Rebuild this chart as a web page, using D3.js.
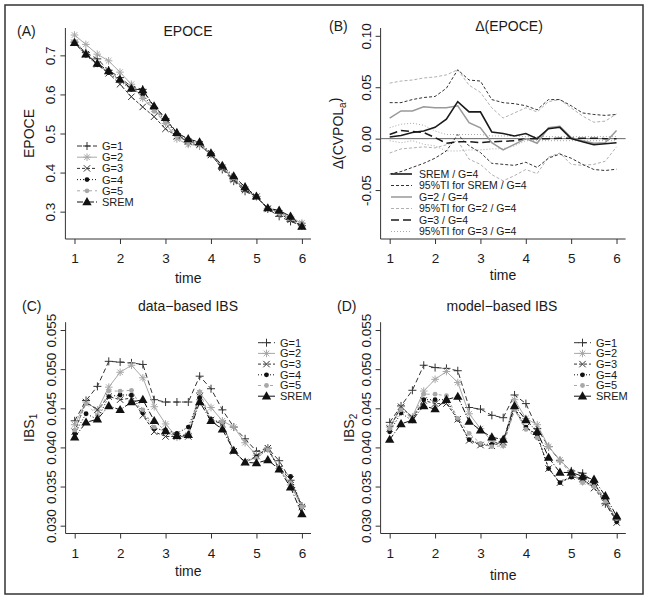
<!DOCTYPE html>
<html>
<head>
<meta charset="utf-8">
<script src="https://cdn.jsdelivr.net/npm/d3@7"></script>
<style>
body { margin: 0; background: #fff; }
text { font-family: "Liberation Sans", Arial, sans-serif; fill: #1a1a1a; }
</style>
</head>
<body>
<script>
// time grid shared by every panel
var times = [1, 1.25, 1.5, 1.75, 2, 2.25, 2.5, 2.75, 3, 3.25, 3.5, 3.75, 4, 4.25, 4.5, 4.75, 5, 5.25, 5.5, 5.75, 6];
var xTicks = [1, 2, 3, 4, 5, 6];

// (A) EPOCE
var epoceG1 = [0.734,0.707,0.691,0.662,0.643,0.620,0.613,0.566,0.538,0.500,0.476,0.469,0.448,0.408,0.378,0.352,0.339,0.307,0.288,0.275,0.264];
var epoceG2 = [0.752,0.728,0.703,0.686,0.657,0.626,0.590,0.562,0.526,0.486,0.472,0.469,0.446,0.412,0.382,0.356,0.339,0.309,0.297,0.284,0.271];
var epoceG3 = [0.732,0.703,0.677,0.654,0.626,0.594,0.568,0.543,0.512,0.493,0.480,0.472,0.445,0.412,0.382,0.355,0.338,0.307,0.295,0.279,0.262];
var epoceG4 = [0.731,0.700,0.676,0.656,0.634,0.613,0.600,0.562,0.534,0.497,0.485,0.474,0.448,0.415,0.385,0.358,0.338,0.308,0.300,0.284,0.261];
var epoceG5 = [0.737,0.707,0.681,0.660,0.634,0.620,0.591,0.557,0.527,0.493,0.478,0.474,0.449,0.416,0.386,0.361,0.339,0.309,0.297,0.286,0.271];
var epoceSREM = [0.732,0.703,0.679,0.660,0.638,0.615,0.611,0.570,0.540,0.502,0.486,0.478,0.450,0.418,0.391,0.363,0.339,0.309,0.303,0.288,0.262];
var epoceTicks = [0.3, 0.4, 0.5, 0.6, 0.7];

// (B) differences of EPOCE and their tolerance intervals
var deltaSREM = [0.0016,0.003,0.006,0.0074,0.011,0.019,0.036,0.026,0.026,0.0065,0.005,0.0026,0.005,0.0,0.0097,0.011,0.0,-0.003,-0.006,-0.005,-0.004];
var deltaSREMhi = [0.035,0.035,0.038,0.040,0.041,0.049,0.067,0.057,0.056,0.038,0.035,0.034,0.032,0.028,0.038,0.038,0.032,0.025,0.0235,0.0226,0.0235];
var deltaSREMlo = [-0.0345,-0.032,-0.028,-0.024,-0.019,-0.012,0.004,-0.007,-0.0135,-0.024,-0.025,-0.026,-0.023,-0.028,-0.019,-0.015,-0.019,-0.025,-0.030,-0.031,-0.0297];
var deltaG2 = [0.020,0.027,0.027,0.031,0.030,0.030,0.032,0.0155,0.0106,-0.004,-0.011,-0.0055,0.0,-0.0045,0.0106,0.012,0.001,-0.002,-0.0045,-0.004,0.008];
var deltaG2hi = [0.054,0.056,0.057,0.059,0.060,0.062,0.067,0.052,0.045,0.030,0.020,0.025,0.030,0.026,0.036,0.038,0.030,0.022,0.016,0.017,0.024];
var deltaG2lo = [-0.014,-0.010,-0.009,-0.008,-0.009,-0.006,-0.002,-0.020,-0.025,-0.035,-0.041,-0.036,-0.030,-0.034,-0.018,-0.014,-0.025,-0.026,-0.025,-0.022,-0.008];
var deltaG3 = [0.004,0.008,0.007,0.006,0.001,-0.0045,-0.003,-0.003,-0.004,-0.003,-0.0026,-0.002,0.0,0.0,0.0,0.0005,0.0005,0.0005,0.0005,0.0,0.0];
var deltaG3hi = [0.0106,0.014,0.015,0.013,0.0074,0.004,0.004,0.004,0.004,0.0026,0.0026,0.0026,0.002,0.002,0.002,0.002,0.002,0.002,0.002,0.002,0.002];
var deltaG3lo = [-0.002,-0.004,-0.002,-0.0055,-0.007,-0.012,-0.012,-0.011,-0.011,-0.010,-0.0097,-0.007,-0.002,-0.002,-0.002,-0.002,-0.002,-0.002,-0.002,-0.002,-0.002];
var deltaTicks = [-0.05, 0, 0.05, 0.10];
var deltaTickLabels = ["-0.05", "0.00", "0.05", "0.10"];

// (C) data-based IBS
var ibs1G1 = [0.0434,0.0460,0.0478,0.0510,0.0509,0.0508,0.0506,0.0461,0.0458,0.0458,0.0458,0.0491,0.0475,0.0448,0.0426,0.0411,0.0395,0.0399,0.0383,0.0358,0.0325];
var ibs1G2 = [0.0429,0.0458,0.0448,0.0477,0.0496,0.0505,0.0489,0.0452,0.0430,0.0413,0.0416,0.0470,0.0451,0.0434,0.0426,0.0406,0.0390,0.0399,0.0373,0.0352,0.0324];
var ibs1G3 = [0.0420,0.0458,0.0448,0.0465,0.0461,0.0463,0.0441,0.0420,0.0414,0.0414,0.0414,0.0465,0.0435,0.0430,0.0395,0.0381,0.0389,0.0399,0.0373,0.0359,0.0324];
var ibs1G4 = [0.0418,0.0443,0.0436,0.0465,0.0467,0.0467,0.0444,0.0424,0.0422,0.0418,0.0426,0.0464,0.0436,0.0431,0.0395,0.0381,0.0388,0.0397,0.0373,0.0363,0.0324];
var ibs1G5 = [0.0422,0.0456,0.0441,0.0472,0.0472,0.0473,0.0448,0.0426,0.0420,0.0413,0.0414,0.0471,0.0435,0.0432,0.0395,0.0382,0.0386,0.0397,0.0373,0.0355,0.0324];
var ibs1SREM = [0.0413,0.0432,0.0436,0.0453,0.0448,0.0458,0.0461,0.0434,0.0421,0.0415,0.0416,0.0458,0.0434,0.0423,0.0396,0.0381,0.0380,0.0384,0.0372,0.0349,0.0315];

// (D) model-based IBS
var ibs2G1 = [0.0432,0.0453,0.0473,0.0505,0.0502,0.0501,0.0498,0.0451,0.0449,0.0441,0.0438,0.0467,0.0456,0.0424,0.0401,0.0383,0.0370,0.0367,0.0356,0.0328,0.0307];
var ibs2G2 = [0.0426,0.0452,0.0439,0.0472,0.0487,0.0497,0.0483,0.0443,0.0424,0.0408,0.0403,0.0461,0.0437,0.0429,0.0401,0.0384,0.0369,0.0356,0.0352,0.0333,0.0307];
var ibs2G3 = [0.0424,0.0452,0.0438,0.0460,0.0456,0.0456,0.0436,0.0409,0.0403,0.0402,0.0407,0.0448,0.0426,0.0416,0.0373,0.0355,0.0363,0.0360,0.0348,0.0329,0.0304];
var ibs2G4 = [0.0420,0.0444,0.0434,0.0461,0.0461,0.0461,0.0436,0.0410,0.0404,0.0404,0.0409,0.0451,0.0426,0.0414,0.0373,0.0355,0.0362,0.0360,0.0354,0.0334,0.0305];
var ibs2G5 = [0.0424,0.0448,0.0437,0.0468,0.0468,0.0466,0.0437,0.0418,0.0405,0.0401,0.0402,0.0448,0.0423,0.0412,0.0401,0.0383,0.0366,0.0355,0.0350,0.0331,0.0309];
var ibs2SREM = [0.0410,0.0430,0.0435,0.0453,0.0449,0.0461,0.0465,0.0433,0.0422,0.0413,0.0410,0.0453,0.0435,0.0420,0.0387,0.0368,0.0368,0.0363,0.0359,0.0338,0.0312];
var ibsTicks = [0.030, 0.035, 0.040, 0.045, 0.050, 0.055];

var groupLabels = ["G=1", "G=2", "G=3", "G=4", "G=5", "SREM"];
var deltaLabels = ["SREM / G=4", "95%TI for SREM / G=4", "G=2 / G=4", "95%TI for G=2 / G=4", "G=3 / G=4", "95%TI for G=3 / G=4"];

// line / symbol styles for the six models
var groupStyle = [
    { color: "#333", dash: "5,3", mark: "plus" },
    { color: "#a8a8a8", dash: null, mark: "star" },
    { color: "#333", dash: "3,2", mark: "cross" },
    { color: "#111", dash: "1,2", mark: "dot" },
    { color: "#a8a8a8", dash: "3,3", mark: "dot" },
    { color: "#111", dash: "6,2,1,2", mark: "tri" }
];

var svg = d3.select("body").append("svg").attr("width", 648).attr("height", 600);

// outer frame
svg.append("rect").attr("x", 5).attr("y", 5).attr("width", 638).attr("height", 589)
    .attr("fill", "none").attr("stroke", "#333").attr("stroke-width", 1.5);

function drawMark(g, type, cx, cy, color) {
    if (type == "plus") {
        g.append("path").attr("d", "M" + (cx - 4) + "," + cy + "H" + (cx + 4) + "M" + cx + "," + (cy - 4) + "V" + (cy + 4))
            .attr("stroke", color).attr("stroke-width", 1).attr("fill", "none");
    } else if (type == "cross") {
        g.append("path").attr("d", "M" + (cx - 3.2) + "," + (cy - 3.2) + "L" + (cx + 3.2) + "," + (cy + 3.2) + "M" + (cx - 3.2) + "," + (cy + 3.2) + "L" + (cx + 3.2) + "," + (cy - 3.2))
            .attr("stroke", color).attr("stroke-width", 1).attr("fill", "none");
    } else if (type == "star") {
        g.append("path").attr("d", "M" + (cx - 3.8) + "," + cy + "H" + (cx + 3.8) + "M" + cx + "," + (cy - 3.8) + "V" + (cy + 3.8) +
                "M" + (cx - 2.8) + "," + (cy - 2.8) + "L" + (cx + 2.8) + "," + (cy + 2.8) + "M" + (cx - 2.8) + "," + (cy + 2.8) + "L" + (cx + 2.8) + "," + (cy - 2.8))
            .attr("stroke", color).attr("stroke-width", 1).attr("fill", "none");
    } else if (type == "dot") {
        g.append("circle").attr("cx", cx).attr("cy", cy).attr("r", 2.4).attr("fill", color);
    } else if (type == "tri") {
        g.append("path").attr("d", d3.symbol().type(d3.symbolTriangle).size(38)())
            .attr("transform", "translate(" + cx + "," + (cy + 0.5) + ")").attr("fill", color);
    }
}

// frame, axes and labels of one panel
function makePanel(p) {
    var x = d3.scaleLinear().domain([0.8, 6.2]).range([p.x0, p.x1]);
    var y = d3.scaleLinear().domain(p.yDomain).range([p.yb, p.yt]);
    var g = svg.append("g");

    // L shaped box
    g.append("path").attr("d", "M" + p.x0 + "," + p.yt + "V" + p.yb + "H" + p.x1)
        .attr("fill", "none").attr("stroke", "#333").attr("stroke-width", 1);

    var xa = g.append("g").attr("transform", "translate(0," + p.yb + ")")
        .call(d3.axisBottom(x).tickValues(xTicks).tickSize(5).tickPadding(p.xPad).tickFormat(d3.format("d")));
    xa.select(".domain").remove();
    xa.attr("font-size", 13.5).attr("font-family", null).attr("color", "#333");

    var ya = g.append("g").attr("transform", "translate(" + p.x0 + ",0)")
        .call(d3.axisLeft(y).tickValues(p.yTicks).tickSize(5).tickFormat(function (d, i) { return p.yLabels[i]; }));
    ya.select(".domain").remove();
    ya.attr("font-size", 13.5).attr("font-family", null).attr("color", "#333");
    ya.selectAll("text").attr("transform", "rotate(-90)").attr("x", 0).attr("y", -10).attr("dy", null).attr("text-anchor", "middle");

    g.append("text").attr("x", (x(1) + x(6)) / 2).attr("y", p.timeY).attr("text-anchor", "middle")
        .style("font-size", "14px").text("time");

    var yl = g.append("text").attr("transform", "translate(" + (p.x0 - p.ylabOff) + "," + ((p.yt + p.yb) / 2) + ") rotate(-90)")
        .attr("text-anchor", "middle").style("font-size", "14px");
    yl.append("tspan").text(p.ylab);
    if (p.ylabSub) {
        yl.append("tspan").attr("dy", "0.35em").style("font-size", "10px").text(p.ylabSub);
        if (p.ylabTail) yl.append("tspan").attr("dy", "-0.45em").text(p.ylabTail);
    }

    g.append("text").attr("x", p.titleX).attr("y", p.titleY).attr("text-anchor", "middle").style("font-size", "14px").text(p.title);
    g.append("text").attr("x", p.tagX).attr("y", p.titleY).style("font-size", "14px").text(p.tag);

    return { g: g, x: x, y: y };
}

// six model curves with symbols and their legend
function drawGroups(panel, seriesList, legend) {
    seriesList.forEach(function (vals, k) {
        var st = groupStyle[k];
        var line = d3.line().x(function (d, i) { return panel.x(times[i]); }).y(function (d) { return panel.y(d); });
        panel.g.append("path").datum(vals).attr("d", line).attr("fill", "none")
            .attr("stroke", st.color).attr("stroke-width", 1).attr("stroke-dasharray", st.dash);
        vals.forEach(function (v, i) {
            drawMark(panel.g, st.mark, panel.x(times[i]), panel.y(v), st.color);
        });
    });
    var lg = panel.g.append("g");
    groupLabels.forEach(function (lab, k) {
        var st = groupStyle[k];
        var cy = legend.y + k * legend.dy;
        lg.append("line").attr("x1", legend.x1).attr("x2", legend.x2).attr("y1", cy).attr("y2", cy)
            .attr("stroke", st.color).attr("stroke-dasharray", st.dash);
        drawMark(lg, st.mark, (legend.x1 + legend.x2) / 2, cy, st.color);
        lg.append("text").attr("x", legend.tx).attr("y", cy).attr("dy", "0.36em").style("font-size", "11px").text(lab);
    });
}

// (A)
var pA = makePanel({ x0: 65.4, x1: 311, yt: 28, yb: 239, yDomain: [0.23, 0.77], yTicks: epoceTicks, yLabels: ["0.3", "0.4", "0.5", "0.6", "0.7"],
    xPad: 9, timeY: 283, ylab: "EPOCE", ylabOff: 31, title: "EPOCE", titleX: 188, titleY: 36, tag: "(A)", tagX: 17 });
drawGroups(pA, [epoceG1, epoceG2, epoceG3, epoceG4, epoceG5, epoceSREM], { x1: 77, x2: 97, tx: 102, y: 146, dy: 11.2 });

// (B)
var pB = makePanel({ x0: 380.6, x1: 625.6, yt: 28, yb: 239, yDomain: [-0.0976, 0.1076], yTicks: deltaTicks, yLabels: deltaTickLabels,
    xPad: 9, timeY: 279.5, ylab: "\u0394(CVPOL", ylabSub: "a", ylabTail: ")", ylabOff: 38, title: "\u0394(EPOCE)", titleX: 509, titleY: 31, tag: "(B)", tagX: 329 });

var deltaStyle = [
    { vals: [deltaSREM], color: "#1a1a1a", dash: null, w: 1.6 },
    { vals: [deltaSREMhi, deltaSREMlo], color: "#333", dash: "3,2", w: 1 },
    { vals: [deltaG2], color: "#999", dash: null, w: 1.5 },
    { vals: [deltaG2hi, deltaG2lo], color: "#b0b0b0", dash: "3,2", w: 1 },
    { vals: [deltaG3], color: "#1a1a1a", dash: "8,4", w: 1.5 },
    { vals: [deltaG3hi, deltaG3lo], color: "#a8a8a8", dash: "1,2", w: 1 }
];
// reference line at zero
pB.g.append("line").attr("x1", pB.x.range()[0]).attr("x2", pB.x.range()[1]).attr("y1", pB.y(0)).attr("y2", pB.y(0))
    .attr("stroke", "#666").attr("stroke-width", 1);
var bLine = d3.line().x(function (d, i) { return pB.x(times[i]); }).y(function (d) { return pB.y(d); });
[5, 3, 1, 4, 2, 0].forEach(function (k) {
    var st = deltaStyle[k];
    st.vals.forEach(function (vals) {
        pB.g.append("path").datum(vals).attr("d", bLine).attr("fill", "none")
            .attr("stroke", st.color).attr("stroke-width", st.w).attr("stroke-dasharray", st.dash);
    });
});
deltaLabels.forEach(function (lab, k) {
    var st = deltaStyle[k];
    var cy = 174 + k * 11.5;
    pB.g.append("line").attr("x1", 391).attr("x2", 412).attr("y1", cy).attr("y2", cy)
        .attr("stroke", st.color).attr("stroke-width", st.w).attr("stroke-dasharray", st.dash);
    pB.g.append("text").attr("x", 419).attr("y", cy).attr("dy", "0.36em").style("font-size", "10.5px").text(lab);
});

// (C)
var ibsLabels = ["0.030", "0.035", "0.040", "0.045", "0.050", "0.055"];
var pC = makePanel({ x0: 65.6, x1: 311, yt: 322.2, yb: 533.5, yDomain: [0.029, 0.056], yTicks: ibsTicks, yLabels: ibsLabels,
    xPad: 9.5, timeY: 576, ylab: "IBS", ylabSub: "1", ylabOff: 32, title: "data\u2212based IBS", titleX: 188, titleY: 311, tag: "(C)", tagX: 22 });
drawGroups(pC, [ibs1G1, ibs1G2, ibs1G3, ibs1G4, ibs1G5, ibs1SREM], { x1: 258, x2: 275, tx: 280, y: 342.7, dy: 10.7 });

// (D)
var pD = makePanel({ x0: 380.6, x1: 625.8, yt: 322.2, yb: 533.5, yDomain: [0.029, 0.056], yTicks: ibsTicks, yLabels: ibsLabels,
    xPad: 9.5, timeY: 580, ylab: "IBS", ylabSub: "2", ylabOff: 27, title: "model\u2212based IBS", titleX: 502, titleY: 311, tag: "(D)", tagX: 337 });
drawGroups(pD, [ibs2G1, ibs2G2, ibs2G3, ibs2G4, ibs2G5, ibs2SREM], { x1: 574, x2: 591, tx: 596, y: 342.7, dy: 10.7 });
</script>
</body>
</html>
